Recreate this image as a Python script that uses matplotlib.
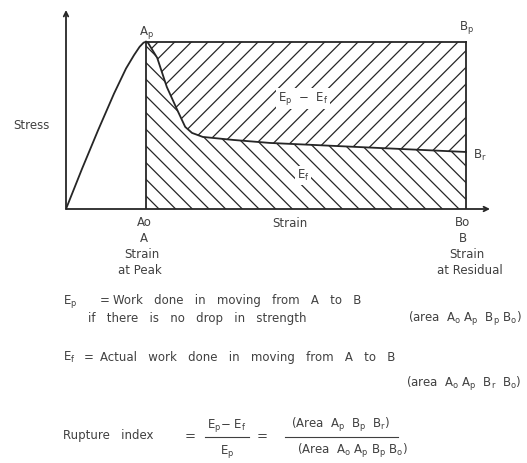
import numpy as np
import matplotlib.pyplot as plt
from matplotlib.lines import Line2D

# strain is in units of the strain at peak, stress in units of peak stress
rise_strain = [0.0, 0.2, 0.4, 0.6, 0.75, 0.85, 0.92, 0.97, 1.0]
rise_stress = [0.0, 0.24, 0.47, 0.69, 0.84, 0.92, 0.97, 0.995, 1.0]

drop_strain = [1.0, 1.025, 1.14, 1.26, 1.39, 1.49, 1.575, 1.71, 2.09, 2.55, 5.0]
drop_stress = [1.0, 0.994, 0.904, 0.73, 0.593, 0.491, 0.455, 0.431, 0.413, 0.395, 0.341]

peak_strain = 1.0
residual_strain = 5.0
peak_stress = 1.0

W, H = 527, 463
ink = '#262626'
txt = '#404040'
plt.rcParams['font.family'] = 'DejaVu Sans'
plt.rcParams['mathtext.fontset'] = 'dejavusans'
plt.rcParams['hatch.linewidth'] = 0.9

fig = plt.figure(figsize=(W / 100, H / 100), dpi=100)
fig.patch.set_facecolor('white')


def px(x, y):
    # pixel position (from top-left) -> figure fraction
    return x / W, 1 - y / H


def ftext(x, y, s, size=8.5, ha='left', clear=False):
    # y is the vertical middle of the capitals, text is set on its baseline
    fx, fy = px(x, y + size * 0.5)
    kw = {}
    if clear:
        kw['bbox'] = dict(facecolor='white', edgecolor='none', pad=1.5)
    fig.text(fx, fy, s, fontsize=size, ha=ha, va='baseline', color=txt, **kw)


# main diagram axes: origin at pixel (66, 209)
ax = fig.add_axes([66 / W, 1 - 209 / H, 424 / W, 199 / H])
ax.set_xlim(0, 5.3)
ax.set_ylim(0, 1.19)
ax.axis('off')

x_drop = np.array(drop_strain)
y_drop = np.array(drop_stress)

# hatched areas
ax.fill_between(x_drop, y_drop, peak_stress, facecolor='none', edgecolor=ink,
                linewidth=0, hatch='//')
ax.fill_between(x_drop, 0, y_drop, facecolor='none', edgecolor=ink,
                linewidth=0, hatch='\\\\')

# stress-strain curve
ax.plot(rise_strain, rise_stress, color=ink, lw=1.3, solid_joinstyle='round')
ax.plot(drop_strain, drop_stress, color=ink, lw=1.3, solid_joinstyle='round')

# box lines
ax.plot([peak_strain, peak_strain], [0, peak_stress], color=ink, lw=1.3)
ax.plot([peak_strain, residual_strain], [peak_stress, peak_stress], color=ink, lw=1.3)
ax.plot([residual_strain, residual_strain], [0, peak_stress], color=ink, lw=1.3)

# axes with arrows
ax.annotate('', xy=(5.3, 0), xytext=(0, 0), annotation_clip=False,
            arrowprops=dict(arrowstyle='->', color=ink, lw=1.3, mutation_scale=8,
                            shrinkA=0, shrinkB=0))
ax.annotate('', xy=(0, 1.19), xytext=(0, 0), annotation_clip=False,
            arrowprops=dict(arrowstyle='->', color=ink, lw=1.3, mutation_scale=8,
                            shrinkA=0, shrinkB=0))

# diagram labels
ftext(146, 31, r'A$_\mathregular{p}$', ha='center')
ftext(466, 26, r'B$_\mathregular{p}$', ha='center')
ftext(473, 155, r'B$_\mathregular{r}$')
ftext(303, 97, r'E$_\mathregular{p}$  $-$  E$_\mathregular{f}$', ha='center', clear=True)
ftext(303, 175, r'E$_\mathregular{f}$', ha='center', clear=True)
ftext(31, 125, 'Stress', ha='center')
ftext(290, 223, 'Strain', ha='center')

ftext(144, 222, 'Ao', ha='center')
ftext(144, 238, 'A', ha='center')
ftext(142, 254, 'Strain', ha='center')
ftext(140, 270, 'at Peak', ha='center')

ftext(463, 222, 'Bo', ha='center')
ftext(463, 238, 'B', ha='center')
ftext(467, 254, 'Strain', ha='center')
ftext(470, 270, 'at Residual', ha='center')

# definitions
ftext(63, 300, r'E$_\mathregular{p}$')
ftext(100, 300, '=')
ftext(113, 300, 'Work   done   in   moving   from   A   to   B')
ftext(88, 318, 'if   there   is   no   drop   in   strength')
ftext(522, 318, r'(area  A$_\mathregular{o}$ A$_\mathregular{p}$  B$_\mathregular{p}$ B$_\mathregular{o}$)',
      ha='right')

ftext(63, 357, r'E$_\mathregular{f}$')
ftext(84, 357, '=')
ftext(100, 357, 'Actual   work   done   in   moving   from   A   to   B')
ftext(522, 383, r'(area  A$_\mathregular{o}$ A$_\mathregular{p}$  B$_\mathregular{r}$  B$_\mathregular{o}$)',
      ha='right')

ftext(63, 435, 'Rupture   index')
ftext(190, 435, '=', size=9.5, ha='center')
ftext(227, 424, r'E$_\mathregular{p}$$-$ E$_\mathregular{f}$', ha='center')
ftext(227, 450, r'E$_\mathregular{p}$', ha='center')
ftext(262, 435, '=', size=9.5, ha='center')
ftext(341, 424, r'(Area  A$_\mathregular{p}$  B$_\mathregular{p}$  B$_\mathregular{r}$)', ha='center')
ftext(352, 450, r'(Area  A$_\mathregular{o}$ A$_\mathregular{p}$ B$_\mathregular{p}$ B$_\mathregular{o}$)',
      ha='center')

for x0, x1 in [(205, 249), (285, 398)]:
    (fx0, fy), (fx1, _) = px(x0, 437), px(x1, 437)
    fig.add_artist(Line2D([fx0, fx1], [fy, fy], color=txt, lw=0.8,
                          transform=fig.transFigure))

fig.savefig('out.png', dpi=100, facecolor='white')
